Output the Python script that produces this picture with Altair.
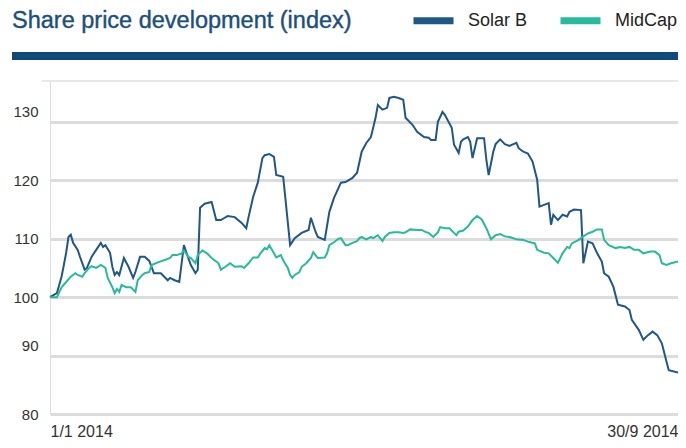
import altair as alt
import pandas as pd

# Day offsets from 1 Jan 2014 and index values
solar_days = [0, 3, 5, 6, 7, 8, 9, 10, 12, 13, 15, 16, 18, 20, 22, 23, 24, 26, 27, 28, 29, 30, 32, 34, 36, 37, 39, 41, 43, 45,
              48, 51, 52, 54, 56, 58, 59, 61, 63, 64, 65, 67, 70, 72, 74, 77, 80, 83, 85, 86, 88, 90, 92, 93, 95, 97, 98, 101,
              104, 106, 109, 112, 113, 115, 116, 119, 121, 123, 126, 128, 131, 133, 135, 137, 139, 141, 142, 144, 146, 147,
              149, 151, 153, 154, 157, 159, 162, 164, 165, 167, 168, 170, 171, 174, 175, 177, 178, 179, 181, 182, 183, 185,
              188, 189, 190, 192, 193, 195, 197, 199, 202, 203, 205, 207, 209, 211, 212, 214, 216, 217, 218, 220, 222, 224,
              225, 227, 230, 231, 233, 235, 237, 239, 240, 242, 244, 246, 249, 251, 252, 255, 257, 259, 261, 263, 265, 267,
              268, 272]
solar_values = [100.0, 100.7, 103.5, 105.5, 107.6, 110.3, 110.7, 109.3, 108.1, 106.9, 104.7, 105.0, 106.9, 108.1, 109.3,
                108.6, 108.9, 107.6, 105.2, 103.8, 104.3, 103.8, 106.7, 105.2, 103.3, 104.3, 106.9, 106.9, 106.2, 104.1,
                104.1, 102.9, 103.3, 102.9, 102.6, 108.9, 107.7, 105.5, 104.1, 104.7, 115.3, 116.0, 116.3, 113.2, 113.2,
                113.9, 113.7, 112.7, 111.8, 113.7, 117.2, 119.6, 123.8, 124.3, 124.5, 124.0, 120.9, 120.6,
                108.9, 110.1, 111.0, 111.5, 113.6, 111.2, 110.3, 109.8, 114.6, 117.0, 119.6, 119.7, 120.4, 121.3, 124.9,
                126.4, 127.4, 130.7, 132.9, 132.1, 132.4, 134.1, 134.3, 134.1, 133.8, 130.7, 129.5, 128.3, 127.4, 127.3,
                126.9, 126.9, 130.0, 131.7, 131.2, 129.0, 126.1, 124.7, 126.6, 127.0, 127.4, 126.6, 123.8, 127.2,
                127.2, 123.5, 120.9, 124.9, 126.2, 127.0, 126.2, 125.9, 126.4, 125.5, 124.9, 124.6, 123.2, 120.1, 115.5,
                115.8, 116.1, 112.4, 114.1, 113.2, 114.1, 113.8, 114.6, 115.0, 114.9, 105.8, 109.5, 109.2, 107.5, 106.1,
                104.1, 103.5, 101.8, 98.7, 98.4, 97.8, 96.1, 94.4, 92.7, 93.5, 94.1, 93.5, 92.1, 89.0, 87.5, 87.1]

midcap_days = [0, 3, 5, 7, 9, 11, 12, 14, 15, 17, 18, 20, 22, 24, 25, 27, 28, 29, 30, 31, 33, 35, 37, 38, 40, 41, 43, 44,
               47, 50, 52, 53, 55, 57, 58, 60, 61, 63, 64, 66, 68, 70, 73, 74, 76, 78, 80, 83, 84, 86, 88, 90, 91, 93, 94,
               95, 96, 97, 98, 100, 101, 103, 104, 105, 106, 108, 109, 111, 113, 114, 115, 116, 119, 120, 121, 123, 125,
               126, 128, 129, 131, 133, 134, 135, 137, 139, 140, 142, 144, 145, 147, 149, 151, 153, 154, 156, 159, 161,
               163, 164, 166, 168, 169, 171, 173, 175, 176, 177, 179, 181, 183, 185, 187, 189, 191, 193, 195, 197, 199,
               202, 205, 207, 210, 211, 214, 216, 218, 220, 222, 224, 225, 226, 229, 231, 233, 235, 237, 239, 240, 242,
               245, 247, 249, 251, 253, 255, 257, 260, 262, 264, 265, 267, 269, 272]
midcap_values = [100.0, 100.0, 101.7, 102.6, 103.5, 104.1, 103.8, 103.5, 104.1, 105.0, 105.3, 105.0, 105.5, 105.0, 103.3,
                 101.7, 100.7, 101.4, 100.9, 102.1, 101.7, 101.7, 100.9, 102.9, 103.8, 104.1, 104.3, 105.5, 106.0, 106.4,
                 106.7, 107.2, 107.2, 107.5, 108.0, 106.9, 106.7, 105.8, 107.2, 108.0, 107.5, 106.7, 105.8, 104.7, 105.2,
                 105.8, 105.2, 105.3, 105.0, 105.8, 106.8, 106.8, 107.4, 108.4, 108.2, 108.9, 108.2, 107.5, 106.8, 107.2,
                 106.3, 105.0, 103.8, 103.3, 103.8, 104.3, 105.2, 105.8, 106.7, 107.7, 107.2, 106.7, 106.8, 107.5, 108.9,
                 109.4, 110.0, 110.1, 108.9, 108.9, 109.3, 109.6, 110.1, 110.3, 109.9, 110.3, 110.1, 110.6, 109.6, 110.3,
                 111.0, 111.1, 111.1, 111.0, 111.1, 111.6, 111.5, 111.5, 111.1, 111.0, 110.3, 111.1, 112.0, 111.8, 111.8,
                 111.0, 110.6, 111.2, 111.4, 112.1, 113.2, 113.9, 113.3, 111.8, 109.9, 110.6, 110.8, 110.4, 110.3, 109.9,
                 109.8, 109.5, 109.2, 108.1, 107.6, 107.5, 106.7, 105.9, 107.5, 108.6, 108.4, 109.2, 109.8, 110.4, 110.9,
                 111.2, 111.6, 111.6, 109.8, 108.9, 108.4, 108.6, 108.4, 108.6, 108.1, 108.1, 107.5, 107.8, 107.8, 107.2,
                 105.8, 105.5, 105.8, 106.1]

series_names = ["Solar B", "MidCap"]
series_colors = ["#1f5788", "#27bb9b"]
y_ticks = [80, 90, 100, 110, 120, 130]
title_text = "Share price development (index)"

base = pd.Timestamp("2014-01-01")
df = pd.concat([
    pd.DataFrame({"date": base + pd.to_timedelta(solar_days, unit="D"),
                  "value": solar_values, "series": series_names[0]}),
    pd.DataFrame({"date": base + pd.to_timedelta(midcap_days, unit="D"),
                  "value": midcap_values, "series": series_names[1]}),
], ignore_index=True)
df["date"] = df["date"].dt.strftime("%Y-%m-%d")

FONT = "Liberation Sans"
W, H = 628, 333
d_start = alt.DateTime(year=2014, month=1, date=1)
d_end = alt.DateTime(year=2014, month=9, date=30)

lines = alt.Chart(df).mark_line(strokeWidth=2).encode(
    x=alt.X("date:T",
            scale=alt.Scale(domain=[d_start, d_end]),
            axis=alt.Axis(values=[d_start, d_end], format="%-d/%-m %Y", title=None, grid=False,
                          domain=False, ticks=False, labelFlush=True, labelPadding=9,
                          labelFontSize=16, labelColor="#333333", labelFont=FONT)),
    y=alt.Y("value:Q",
            scale=alt.Scale(domain=[80, 137], nice=False, zero=False),
            axis=alt.Axis(values=y_ticks, title=None, domain=False, ticks=False,
                          gridColor="#dcdcdc", gridWidth=3, labelPadding=12,
                          labelFontSize=15, labelColor="#333333", labelFont=FONT,
                          labelOffset={"condition": {"test": "datum.value == 130 || datum.value == 90",
                                                     "value": -10}, "value": 0})),
    color=alt.Color("series:N",
                    scale=alt.Scale(domain=series_names, range=series_colors),
                    legend=alt.Legend(title=None, orient="none", legendX=360, legendY=-84,
                                      direction="horizontal", symbolType="stroke",
                                      symbolStrokeWidth=7, symbolSize=1600, labelFontSize=18,
                                      labelFont=FONT, labelColor="#222222", labelOffset=11,
                                      columnPadding=18)),
)

one = pd.DataFrame({"k": [0]})
title_mark = alt.Chart(one).mark_text(
    text=title_text, align="left", baseline="middle", font=FONT, fontSize=23.5,
    color="#1b4f7f", stroke="#1b4f7f", strokeWidth=0.4
).encode(x=alt.value(-38), y=alt.value(-60))
top_bar = alt.Chart(one).mark_rule(color="#0e4a7c", strokeWidth=8).encode(
    x=alt.value(-38), x2=alt.value(W), y=alt.value(-25))
top_line = alt.Chart(one).mark_rule(color="#e8e8e8", strokeWidth=2).encode(
    x=alt.value(-8), x2=alt.value(W), y=alt.value(0))

chart = alt.layer(top_line, lines, top_bar, title_mark).properties(
    width=W, height=H,
    autosize=alt.AutoSizeParams(type="none"),
    padding={"left": 42, "top": 73, "right": 0, "bottom": 26},
).configure_view(stroke=None).configure(background="white")

chart.save("out.html", embed_options={"renderer": "svg", "actions": False})
